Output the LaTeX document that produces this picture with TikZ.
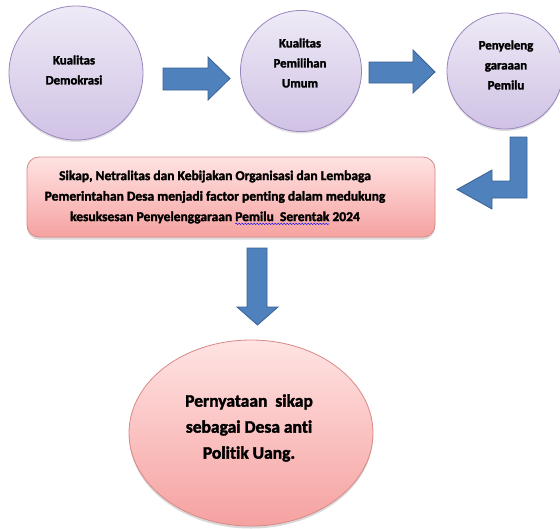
\documentclass[tikz,border=0pt]{standalone}
\usepackage{fontspec}
\setmainfont{Carlito}[Ligatures={NoCommon}, BoldFeatures={FakeBold=2}]
\usetikzlibrary{shapes.geometric,shadows,decorations.pathmorphing}
\definecolor{circT}{HTML}{EEEAF6}
\definecolor{circBot}{HTML}{D0C2E5}
\definecolor{circB}{HTML}{9A84BE}
\definecolor{pinkT}{HTML}{FFE3E3}
\definecolor{pinkBot}{HTML}{F5A2A0}
\definecolor{pinkB}{HTML}{D98886}
\definecolor{arrF}{HTML}{4F81BD}
\definecolor{arrD}{HTML}{3A6193}
\newsavebox\wavebox
\newcommand\bluewave[1]{\sbox\wavebox{#1}\rlap{\tikz[overlay,baseline=0pt,x=1pt,y=1pt]\draw[blue, line width=0.4pt, decorate, decoration={snake, segment length=3pt, amplitude=0.7pt}] (0pt,-2.8pt) -- (\the\wd\wavebox,-2.8pt);}\usebox\wavebox}
\begin{document}
\begin{tikzpicture}[x=1pt,y=-1pt,
  circ/.style={circle, draw=circB, line width=0.8pt, top color=circT, bottom color=circBot, inner sep=0pt,
    drop shadow={opacity=0.25,shadow xshift=0pt,shadow yshift=-2pt}},
  pinkshape/.style={draw=pinkB, line width=0.8pt, top color=pinkT, bottom color=pinkBot, inner sep=0pt,
    drop shadow={opacity=0.3,shadow xshift=0pt,shadow yshift=-2.5pt}},
  txt/.style={font=\fontsize{12.8}{20}\selectfont\bfseries, align=center, inner sep=0pt},
  boxtxt/.style={font=\fontsize{13.5}{20.5}\selectfont\bfseries, align=center, inner sep=0pt},
  bigtxt/.style={font=\fontsize{17.5}{26}\selectfont\bfseries, align=center, inner sep=0pt},
  blockarrow/.style={fill=arrF, draw=arrD, line width=0.8pt, line join=miter}]
\useasboundingbox (0,0) rectangle (560,528);

% circles
\node[circ, minimum size=134pt] (c1) at (76,73) {};
\node[circ, minimum size=121pt] (c2) at (301,71) {};
\node[circ, minimum size=116pt] (c3) at (505,71) {};
\node[txt] (t1) at (74,70) {Kualitas\\Demokrasi};
\node[txt] (t2) at (300,63) {Kualitas\\Pemilihan\\Umum};
\node[txt] (t3) at (506,65) {Penyeleng\\garaaan\\Pemilu};

% box
\node[pinkshape, rounded corners=12pt, minimum width=408pt, minimum height=80pt] (b) at (231,197) {};
\node[boxtxt] (bt) at (215,197) {Sikap, Netralitas dan Kebijakan Organisasi dan Lembaga\\
Pemerintahan Desa menjadi factor penting dalam medukung\\
kesuksesan Penyelenggaraan \bluewave{Pemilu\ \ Serentak} 2024};

% ellipse
\node[pinkshape, ellipse, minimum width=244pt, minimum height=186pt] (e) at (251,433) {};
\node[bigtxt] (et) at (249,428) {Pernyataan\ \ sikap\\sebagai Desa anti\\Politik Uang.};

% block arrows
\draw[blockarrow] (163,68) -- (208,68) -- (208,57) -- (230,78.5) -- (208,100) -- (208,90) -- (163,90) -- cycle;
\draw[blockarrow] (369,62) -- (413,62) -- (413,50) -- (435,72) -- (413,93) -- (413,83) -- (369,83) -- cycle;
\draw[blockarrow] (510,137) -- (527,137) -- (527,198) -- (492,198) -- (492,209) -- (457,189.5) -- (492,170) -- (492,181) -- (510,181) -- cycle;
\draw[blockarrow] (247,248) -- (267,248) -- (267,307) -- (278,307) -- (257.5,325) -- (237,307) -- (247,307) -- cycle;
\end{tikzpicture}
\end{document}
